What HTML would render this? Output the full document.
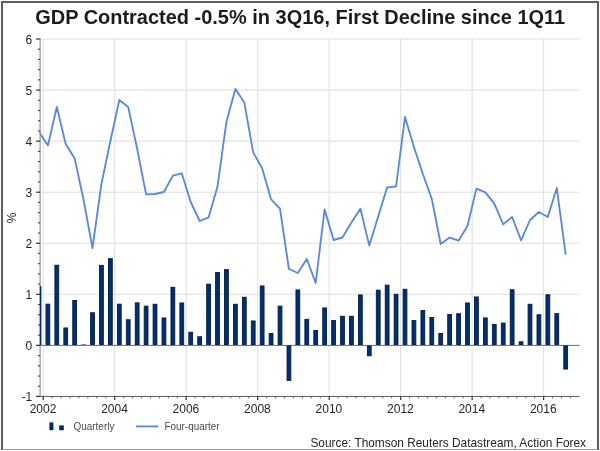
<!DOCTYPE html>
<html lang="en"><head><meta charset="utf-8"><title>GDP Contracted -0.5% in 3Q16</title>
<style>html,body{margin:0;padding:0;background:#fff}svg{display:block}text{font-family:"Liberation Sans",sans-serif}</style>
</head><body>
<svg width="600" height="451" viewBox="0 0 600 451">
<rect x="0" y="0" width="600" height="451" fill="#fff"/>
<g shape-rendering="crispEdges">
<rect x="1" y="1" width="598" height="2" fill="#5e5e5e"/>
<rect x="1" y="1" width="2" height="449" fill="#5e5e5e"/>
<rect x="597" y="1" width="2" height="449" fill="#5e5e5e"/>
<rect x="3" y="449" width="594" height="1" fill="#9a9a9a"/>
</g>
<g stroke="#ebebeb" stroke-width="1" fill="none">
<line x1="43" y1="294.34" x2="579.5" y2="294.34"/>
<line x1="43" y1="243.28" x2="579.5" y2="243.28"/>
<line x1="43" y1="192.22" x2="579.5" y2="192.22"/>
<line x1="43" y1="141.16" x2="579.5" y2="141.16"/>
<line x1="43" y1="90.10" x2="579.5" y2="90.10"/>
<line x1="43" y1="39.04" x2="579.5" y2="39.04"/>
<line x1="43.20" y1="39" x2="43.20" y2="396"/>
<line x1="114.69" y1="39" x2="114.69" y2="396"/>
<line x1="186.18" y1="39" x2="186.18" y2="396"/>
<line x1="257.67" y1="39" x2="257.67" y2="396"/>
<line x1="329.16" y1="39" x2="329.16" y2="396"/>
<line x1="400.65" y1="39" x2="400.65" y2="396"/>
<line x1="472.14" y1="39" x2="472.14" y2="396"/>
<line x1="543.63" y1="39" x2="543.63" y2="396"/>
</g>
<g stroke="#dadada" stroke-width="1" stroke-dasharray="1 1" fill="none">
<line x1="43" y1="294.34" x2="579.5" y2="294.34"/>
<line x1="43" y1="243.28" x2="579.5" y2="243.28"/>
<line x1="43" y1="192.22" x2="579.5" y2="192.22"/>
<line x1="43" y1="141.16" x2="579.5" y2="141.16"/>
<line x1="43" y1="90.10" x2="579.5" y2="90.10"/>
<line x1="43" y1="39.04" x2="579.5" y2="39.04"/>
<line x1="43.20" y1="39" x2="43.20" y2="396"/>
<line x1="114.69" y1="39" x2="114.69" y2="396"/>
<line x1="186.18" y1="39" x2="186.18" y2="396"/>
<line x1="257.67" y1="39" x2="257.67" y2="396"/>
<line x1="329.16" y1="39" x2="329.16" y2="396"/>
<line x1="400.65" y1="39" x2="400.65" y2="396"/>
<line x1="472.14" y1="39" x2="472.14" y2="396"/>
<line x1="543.63" y1="39" x2="543.63" y2="396"/>
</g>
<g fill="none" stroke-width="1">
<line x1="40.1" y1="38.5" x2="40.1" y2="396.9" stroke="#8a8a8a" stroke-width="1.1"/>
<line x1="36" y1="396.45" x2="579.7" y2="396.45" stroke="#5c5c5c"/>
<line x1="40" y1="345.4" x2="579.7" y2="345.4" stroke="#6a6a6a"/>
<line x1="36" y1="396.45" x2="40.2" y2="396.45" stroke="#333" stroke-width="1.2"/>
<line x1="37.9" y1="386.24" x2="40.2" y2="386.24" stroke="#444" stroke-width="1.1"/>
<line x1="37.9" y1="376.03" x2="40.2" y2="376.03" stroke="#444" stroke-width="1.1"/>
<line x1="37.9" y1="365.81" x2="40.2" y2="365.81" stroke="#444" stroke-width="1.1"/>
<line x1="37.9" y1="355.60" x2="40.2" y2="355.60" stroke="#444" stroke-width="1.1"/>
<line x1="36" y1="345.39" x2="40.2" y2="345.39" stroke="#333" stroke-width="1.2"/>
<line x1="37.9" y1="335.18" x2="40.2" y2="335.18" stroke="#444" stroke-width="1.1"/>
<line x1="37.9" y1="324.97" x2="40.2" y2="324.97" stroke="#444" stroke-width="1.1"/>
<line x1="37.9" y1="314.75" x2="40.2" y2="314.75" stroke="#444" stroke-width="1.1"/>
<line x1="37.9" y1="304.54" x2="40.2" y2="304.54" stroke="#444" stroke-width="1.1"/>
<line x1="36" y1="294.33" x2="40.2" y2="294.33" stroke="#333" stroke-width="1.2"/>
<line x1="37.9" y1="284.12" x2="40.2" y2="284.12" stroke="#444" stroke-width="1.1"/>
<line x1="37.9" y1="273.91" x2="40.2" y2="273.91" stroke="#444" stroke-width="1.1"/>
<line x1="37.9" y1="263.69" x2="40.2" y2="263.69" stroke="#444" stroke-width="1.1"/>
<line x1="37.9" y1="253.48" x2="40.2" y2="253.48" stroke="#444" stroke-width="1.1"/>
<line x1="36" y1="243.27" x2="40.2" y2="243.27" stroke="#333" stroke-width="1.2"/>
<line x1="37.9" y1="233.06" x2="40.2" y2="233.06" stroke="#444" stroke-width="1.1"/>
<line x1="37.9" y1="222.85" x2="40.2" y2="222.85" stroke="#444" stroke-width="1.1"/>
<line x1="37.9" y1="212.63" x2="40.2" y2="212.63" stroke="#444" stroke-width="1.1"/>
<line x1="37.9" y1="202.42" x2="40.2" y2="202.42" stroke="#444" stroke-width="1.1"/>
<line x1="36" y1="192.21" x2="40.2" y2="192.21" stroke="#333" stroke-width="1.2"/>
<line x1="37.9" y1="182.00" x2="40.2" y2="182.00" stroke="#444" stroke-width="1.1"/>
<line x1="37.9" y1="171.79" x2="40.2" y2="171.79" stroke="#444" stroke-width="1.1"/>
<line x1="37.9" y1="161.57" x2="40.2" y2="161.57" stroke="#444" stroke-width="1.1"/>
<line x1="37.9" y1="151.36" x2="40.2" y2="151.36" stroke="#444" stroke-width="1.1"/>
<line x1="36" y1="141.15" x2="40.2" y2="141.15" stroke="#333" stroke-width="1.2"/>
<line x1="37.9" y1="130.94" x2="40.2" y2="130.94" stroke="#444" stroke-width="1.1"/>
<line x1="37.9" y1="120.73" x2="40.2" y2="120.73" stroke="#444" stroke-width="1.1"/>
<line x1="37.9" y1="110.51" x2="40.2" y2="110.51" stroke="#444" stroke-width="1.1"/>
<line x1="37.9" y1="100.30" x2="40.2" y2="100.30" stroke="#444" stroke-width="1.1"/>
<line x1="36" y1="90.09" x2="40.2" y2="90.09" stroke="#333" stroke-width="1.2"/>
<line x1="37.9" y1="79.88" x2="40.2" y2="79.88" stroke="#444" stroke-width="1.1"/>
<line x1="37.9" y1="69.67" x2="40.2" y2="69.67" stroke="#444" stroke-width="1.1"/>
<line x1="37.9" y1="59.45" x2="40.2" y2="59.45" stroke="#444" stroke-width="1.1"/>
<line x1="37.9" y1="49.24" x2="40.2" y2="49.24" stroke="#444" stroke-width="1.1"/>
<line x1="36" y1="39.03" x2="40.2" y2="39.03" stroke="#333" stroke-width="1.2"/>
<line x1="43.20" y1="396.5" x2="43.20" y2="399.9" stroke="#333" stroke-width="1.2"/>
<line x1="52.14" y1="396.5" x2="52.14" y2="398.4" stroke="#666"/>
<line x1="61.07" y1="396.5" x2="61.07" y2="398.4" stroke="#666"/>
<line x1="70.01" y1="396.5" x2="70.01" y2="398.4" stroke="#666"/>
<line x1="78.95" y1="396.5" x2="78.95" y2="398.4" stroke="#666"/>
<line x1="87.88" y1="396.5" x2="87.88" y2="398.4" stroke="#666"/>
<line x1="96.82" y1="396.5" x2="96.82" y2="398.4" stroke="#666"/>
<line x1="105.75" y1="396.5" x2="105.75" y2="398.4" stroke="#666"/>
<line x1="114.69" y1="396.5" x2="114.69" y2="399.9" stroke="#333" stroke-width="1.2"/>
<line x1="123.63" y1="396.5" x2="123.63" y2="398.4" stroke="#666"/>
<line x1="132.56" y1="396.5" x2="132.56" y2="398.4" stroke="#666"/>
<line x1="141.50" y1="396.5" x2="141.50" y2="398.4" stroke="#666"/>
<line x1="150.44" y1="396.5" x2="150.44" y2="398.4" stroke="#666"/>
<line x1="159.37" y1="396.5" x2="159.37" y2="398.4" stroke="#666"/>
<line x1="168.31" y1="396.5" x2="168.31" y2="398.4" stroke="#666"/>
<line x1="177.24" y1="396.5" x2="177.24" y2="398.4" stroke="#666"/>
<line x1="186.18" y1="396.5" x2="186.18" y2="399.9" stroke="#333" stroke-width="1.2"/>
<line x1="195.12" y1="396.5" x2="195.12" y2="398.4" stroke="#666"/>
<line x1="204.05" y1="396.5" x2="204.05" y2="398.4" stroke="#666"/>
<line x1="212.99" y1="396.5" x2="212.99" y2="398.4" stroke="#666"/>
<line x1="221.93" y1="396.5" x2="221.93" y2="398.4" stroke="#666"/>
<line x1="230.86" y1="396.5" x2="230.86" y2="398.4" stroke="#666"/>
<line x1="239.80" y1="396.5" x2="239.80" y2="398.4" stroke="#666"/>
<line x1="248.73" y1="396.5" x2="248.73" y2="398.4" stroke="#666"/>
<line x1="257.67" y1="396.5" x2="257.67" y2="399.9" stroke="#333" stroke-width="1.2"/>
<line x1="266.61" y1="396.5" x2="266.61" y2="398.4" stroke="#666"/>
<line x1="275.54" y1="396.5" x2="275.54" y2="398.4" stroke="#666"/>
<line x1="284.48" y1="396.5" x2="284.48" y2="398.4" stroke="#666"/>
<line x1="293.42" y1="396.5" x2="293.42" y2="398.4" stroke="#666"/>
<line x1="302.35" y1="396.5" x2="302.35" y2="398.4" stroke="#666"/>
<line x1="311.29" y1="396.5" x2="311.29" y2="398.4" stroke="#666"/>
<line x1="320.23" y1="396.5" x2="320.23" y2="398.4" stroke="#666"/>
<line x1="329.16" y1="396.5" x2="329.16" y2="399.9" stroke="#333" stroke-width="1.2"/>
<line x1="338.10" y1="396.5" x2="338.10" y2="398.4" stroke="#666"/>
<line x1="347.03" y1="396.5" x2="347.03" y2="398.4" stroke="#666"/>
<line x1="355.97" y1="396.5" x2="355.97" y2="398.4" stroke="#666"/>
<line x1="364.91" y1="396.5" x2="364.91" y2="398.4" stroke="#666"/>
<line x1="373.84" y1="396.5" x2="373.84" y2="398.4" stroke="#666"/>
<line x1="382.78" y1="396.5" x2="382.78" y2="398.4" stroke="#666"/>
<line x1="391.72" y1="396.5" x2="391.72" y2="398.4" stroke="#666"/>
<line x1="400.65" y1="396.5" x2="400.65" y2="399.9" stroke="#333" stroke-width="1.2"/>
<line x1="409.59" y1="396.5" x2="409.59" y2="398.4" stroke="#666"/>
<line x1="418.52" y1="396.5" x2="418.52" y2="398.4" stroke="#666"/>
<line x1="427.46" y1="396.5" x2="427.46" y2="398.4" stroke="#666"/>
<line x1="436.40" y1="396.5" x2="436.40" y2="398.4" stroke="#666"/>
<line x1="445.33" y1="396.5" x2="445.33" y2="398.4" stroke="#666"/>
<line x1="454.27" y1="396.5" x2="454.27" y2="398.4" stroke="#666"/>
<line x1="463.21" y1="396.5" x2="463.21" y2="398.4" stroke="#666"/>
<line x1="472.14" y1="396.5" x2="472.14" y2="399.9" stroke="#333" stroke-width="1.2"/>
<line x1="481.08" y1="396.5" x2="481.08" y2="398.4" stroke="#666"/>
<line x1="490.01" y1="396.5" x2="490.01" y2="398.4" stroke="#666"/>
<line x1="498.95" y1="396.5" x2="498.95" y2="398.4" stroke="#666"/>
<line x1="507.89" y1="396.5" x2="507.89" y2="398.4" stroke="#666"/>
<line x1="516.82" y1="396.5" x2="516.82" y2="398.4" stroke="#666"/>
<line x1="525.76" y1="396.5" x2="525.76" y2="398.4" stroke="#666"/>
<line x1="534.70" y1="396.5" x2="534.70" y2="398.4" stroke="#666"/>
<line x1="543.63" y1="396.5" x2="543.63" y2="399.9" stroke="#333" stroke-width="1.2"/>
<line x1="552.57" y1="396.5" x2="552.57" y2="398.4" stroke="#666"/>
<line x1="561.51" y1="396.5" x2="561.51" y2="398.4" stroke="#666"/>
<line x1="570.44" y1="396.5" x2="570.44" y2="398.4" stroke="#666"/>
</g>
<defs><clipPath id="pc"><rect x="39.6" y="30" width="545" height="370"/></clipPath></defs>
<g clip-path="url(#pc)">
<g fill="#002a62">
<rect x="39.60" y="286.20" width="1.8" height="58.80"/>
<rect x="45.98" y="304.15" width="3.80" height="40.40" fill="#00306f" stroke="#001b44" stroke-width="0.9"/>
<rect x="54.91" y="265.25" width="3.80" height="79.30" fill="#00306f" stroke="#001b44" stroke-width="0.9"/>
<rect x="63.84" y="327.95" width="3.80" height="16.60" fill="#00306f" stroke="#001b44" stroke-width="0.9"/>
<rect x="72.76" y="300.45" width="3.80" height="44.10" fill="#00306f" stroke="#001b44" stroke-width="0.9"/>
<rect x="81.24" y="344.50" width="4.7" height="0.50"/>
<rect x="90.62" y="312.75" width="3.80" height="31.80" fill="#00306f" stroke="#001b44" stroke-width="0.9"/>
<rect x="99.55" y="265.35" width="3.80" height="79.20" fill="#00306f" stroke="#001b44" stroke-width="0.9"/>
<rect x="108.48" y="258.65" width="3.80" height="85.90" fill="#00306f" stroke="#001b44" stroke-width="0.9"/>
<rect x="117.40" y="304.15" width="3.80" height="40.40" fill="#00306f" stroke="#001b44" stroke-width="0.9"/>
<rect x="126.33" y="319.75" width="3.80" height="24.80" fill="#00306f" stroke="#001b44" stroke-width="0.9"/>
<rect x="135.26" y="302.85" width="3.80" height="41.70" fill="#00306f" stroke="#001b44" stroke-width="0.9"/>
<rect x="144.19" y="306.15" width="3.80" height="38.40" fill="#00306f" stroke="#001b44" stroke-width="0.9"/>
<rect x="153.12" y="304.25" width="3.80" height="40.30" fill="#00306f" stroke="#001b44" stroke-width="0.9"/>
<rect x="162.04" y="317.95" width="3.80" height="26.60" fill="#00306f" stroke="#001b44" stroke-width="0.9"/>
<rect x="170.97" y="287.25" width="3.80" height="57.30" fill="#00306f" stroke="#001b44" stroke-width="0.9"/>
<rect x="179.90" y="302.95" width="3.80" height="41.60" fill="#00306f" stroke="#001b44" stroke-width="0.9"/>
<rect x="188.83" y="332.25" width="3.80" height="12.30" fill="#00306f" stroke="#001b44" stroke-width="0.9"/>
<rect x="197.76" y="336.75" width="3.80" height="7.80" fill="#00306f" stroke="#001b44" stroke-width="0.9"/>
<rect x="206.68" y="284.15" width="3.80" height="60.40" fill="#00306f" stroke="#001b44" stroke-width="0.9"/>
<rect x="215.61" y="272.45" width="3.80" height="72.10" fill="#00306f" stroke="#001b44" stroke-width="0.9"/>
<rect x="224.54" y="269.65" width="3.80" height="74.90" fill="#00306f" stroke="#001b44" stroke-width="0.9"/>
<rect x="233.47" y="304.25" width="3.80" height="40.30" fill="#00306f" stroke="#001b44" stroke-width="0.9"/>
<rect x="242.40" y="297.25" width="3.80" height="47.30" fill="#00306f" stroke="#001b44" stroke-width="0.9"/>
<rect x="251.32" y="320.95" width="3.80" height="23.60" fill="#00306f" stroke="#001b44" stroke-width="0.9"/>
<rect x="260.25" y="285.95" width="3.80" height="58.60" fill="#00306f" stroke="#001b44" stroke-width="0.9"/>
<rect x="269.18" y="333.45" width="3.80" height="11.10" fill="#00306f" stroke="#001b44" stroke-width="0.9"/>
<rect x="278.11" y="306.15" width="3.80" height="38.40" fill="#00306f" stroke="#001b44" stroke-width="0.9"/>
<rect x="287.04" y="345.95" width="3.80" height="34.40" fill="#00306f" stroke="#001b44" stroke-width="0.9"/>
<rect x="295.96" y="289.95" width="3.80" height="54.60" fill="#00306f" stroke="#001b44" stroke-width="0.9"/>
<rect x="304.89" y="319.35" width="3.80" height="25.20" fill="#00306f" stroke="#001b44" stroke-width="0.9"/>
<rect x="313.82" y="330.45" width="3.80" height="14.10" fill="#00306f" stroke="#001b44" stroke-width="0.9"/>
<rect x="322.75" y="307.95" width="3.80" height="36.60" fill="#00306f" stroke="#001b44" stroke-width="0.9"/>
<rect x="331.68" y="320.45" width="3.80" height="24.10" fill="#00306f" stroke="#001b44" stroke-width="0.9"/>
<rect x="340.60" y="316.25" width="3.80" height="28.30" fill="#00306f" stroke="#001b44" stroke-width="0.9"/>
<rect x="349.53" y="316.25" width="3.80" height="28.30" fill="#00306f" stroke="#001b44" stroke-width="0.9"/>
<rect x="358.46" y="294.95" width="3.80" height="49.60" fill="#00306f" stroke="#001b44" stroke-width="0.9"/>
<rect x="367.39" y="345.95" width="3.80" height="9.80" fill="#00306f" stroke="#001b44" stroke-width="0.9"/>
<rect x="376.32" y="290.15" width="3.80" height="54.40" fill="#00306f" stroke="#001b44" stroke-width="0.9"/>
<rect x="385.24" y="285.15" width="3.80" height="59.40" fill="#00306f" stroke="#001b44" stroke-width="0.9"/>
<rect x="394.17" y="294.25" width="3.80" height="50.30" fill="#00306f" stroke="#001b44" stroke-width="0.9"/>
<rect x="403.10" y="289.25" width="3.80" height="55.30" fill="#00306f" stroke="#001b44" stroke-width="0.9"/>
<rect x="412.03" y="320.45" width="3.80" height="24.10" fill="#00306f" stroke="#001b44" stroke-width="0.9"/>
<rect x="420.96" y="310.45" width="3.80" height="34.10" fill="#00306f" stroke="#001b44" stroke-width="0.9"/>
<rect x="429.88" y="317.45" width="3.80" height="27.10" fill="#00306f" stroke="#001b44" stroke-width="0.9"/>
<rect x="438.81" y="333.45" width="3.80" height="11.10" fill="#00306f" stroke="#001b44" stroke-width="0.9"/>
<rect x="447.74" y="314.45" width="3.80" height="30.10" fill="#00306f" stroke="#001b44" stroke-width="0.9"/>
<rect x="456.67" y="313.75" width="3.80" height="30.80" fill="#00306f" stroke="#001b44" stroke-width="0.9"/>
<rect x="465.60" y="302.95" width="3.80" height="41.60" fill="#00306f" stroke="#001b44" stroke-width="0.9"/>
<rect x="474.52" y="296.95" width="3.80" height="47.60" fill="#00306f" stroke="#001b44" stroke-width="0.9"/>
<rect x="483.45" y="317.95" width="3.80" height="26.60" fill="#00306f" stroke="#001b44" stroke-width="0.9"/>
<rect x="492.38" y="324.45" width="3.80" height="20.10" fill="#00306f" stroke="#001b44" stroke-width="0.9"/>
<rect x="501.31" y="323.05" width="3.80" height="21.50" fill="#00306f" stroke="#001b44" stroke-width="0.9"/>
<rect x="510.24" y="289.75" width="3.80" height="54.80" fill="#00306f" stroke="#001b44" stroke-width="0.9"/>
<rect x="519.16" y="341.75" width="3.80" height="2.80" fill="#00306f" stroke="#001b44" stroke-width="0.9"/>
<rect x="528.09" y="304.25" width="3.80" height="40.30" fill="#00306f" stroke="#001b44" stroke-width="0.9"/>
<rect x="537.02" y="314.75" width="3.80" height="29.80" fill="#00306f" stroke="#001b44" stroke-width="0.9"/>
<rect x="545.95" y="294.75" width="3.80" height="49.80" fill="#00306f" stroke="#001b44" stroke-width="0.9"/>
<rect x="554.88" y="313.65" width="3.80" height="30.90" fill="#00306f" stroke="#001b44" stroke-width="0.9"/>
<rect x="563.80" y="345.95" width="3.80" height="23.10" fill="#00306f" stroke="#001b44" stroke-width="0.9"/>
</g>
<polyline points="39.0,132.0 47.9,145.6 56.8,107.0 65.7,144.0 74.7,158.6 83.6,200.0 92.5,248.0 101.4,184.0 110.4,141.0 119.3,100.0 128.2,107.0 137.2,149.0 146.1,194.4 155.0,194.0 163.9,192.0 172.9,175.6 181.8,173.4 190.7,202.0 199.7,221.0 208.6,217.4 217.5,186.6 226.4,122.0 235.4,89.0 244.3,102.6 253.2,152.4 262.2,168.5 271.1,199.4 280.0,208.6 288.9,269.0 297.9,273.0 306.8,259.0 315.7,283.0 324.6,209.4 333.6,240.0 342.5,237.5 351.4,222.5 360.4,208.8 369.3,245.6 378.2,216.5 387.1,187.5 396.1,186.4 405.0,117.0 413.9,147.0 422.9,174.0 431.8,199.0 440.7,244.0 449.6,237.6 458.6,240.6 467.5,226.0 476.4,188.6 485.4,192.4 494.3,203.6 503.2,224.4 512.1,217.0 521.1,240.4 530.0,220.0 538.9,212.0 547.8,217.0 556.8,188.0 565.7,254.6" fill="none" stroke="#5a89db" stroke-width="1.85" stroke-linejoin="round"/>
</g>
<text x="300.2" y="23.8" text-anchor="middle" font-size="19.9" font-weight="bold" fill="#1c1c1c" textLength="530" lengthAdjust="spacingAndGlyphs">GDP Contracted -0.5% in 3Q16, First Decline since 1Q11</text>
<text x="32.3" y="400.9" text-anchor="end" font-size="12" fill="#262626">-1</text>
<text x="32.3" y="349.9" text-anchor="end" font-size="12" fill="#262626">0</text>
<text x="32.3" y="298.8" text-anchor="end" font-size="12" fill="#262626">1</text>
<text x="32.3" y="247.8" text-anchor="end" font-size="12" fill="#262626">2</text>
<text x="32.3" y="196.7" text-anchor="end" font-size="12" fill="#262626">3</text>
<text x="32.3" y="145.6" text-anchor="end" font-size="12" fill="#262626">4</text>
<text x="32.3" y="94.6" text-anchor="end" font-size="12" fill="#262626">5</text>
<text x="32.3" y="43.5" text-anchor="end" font-size="12" fill="#262626">6</text>
<text x="43.0" y="413.2" text-anchor="middle" font-size="12" fill="#262626">2002</text>
<text x="114.5" y="413.2" text-anchor="middle" font-size="12" fill="#262626">2004</text>
<text x="185.9" y="413.2" text-anchor="middle" font-size="12" fill="#262626">2006</text>
<text x="257.4" y="413.2" text-anchor="middle" font-size="12" fill="#262626">2008</text>
<text x="328.9" y="413.2" text-anchor="middle" font-size="12" fill="#262626">2010</text>
<text x="400.4" y="413.2" text-anchor="middle" font-size="12" fill="#262626">2012</text>
<text x="471.8" y="413.2" text-anchor="middle" font-size="12" fill="#262626">2014</text>
<text x="543.3" y="413.2" text-anchor="middle" font-size="12" fill="#262626">2016</text>
<text transform="translate(16,217.8) rotate(-90)" text-anchor="middle" font-size="12" fill="#262626">%</text>
<rect x="49.4" y="422.4" width="4" height="7.8" fill="#002a62"/>
<rect x="59.2" y="425.4" width="4.6" height="4.8" fill="#002a62"/>
<text x="73.5" y="430.2" font-size="10" fill="#4a4a4a" textLength="40.9" lengthAdjust="spacingAndGlyphs">Quarterly</text>
<line x1="136" y1="426.4" x2="158.2" y2="426.4" stroke="#5a89db" stroke-width="1.85"/>
<text x="164.5" y="430.2" font-size="10" fill="#4a4a4a" textLength="55" lengthAdjust="spacingAndGlyphs">Four-quarter</text>
<text x="586" y="447" text-anchor="end" font-size="11.9" fill="#262626" textLength="275.6" lengthAdjust="spacingAndGlyphs">Source: Thomson Reuters Datastream, Action Forex</text>
</svg>
</body></html>
